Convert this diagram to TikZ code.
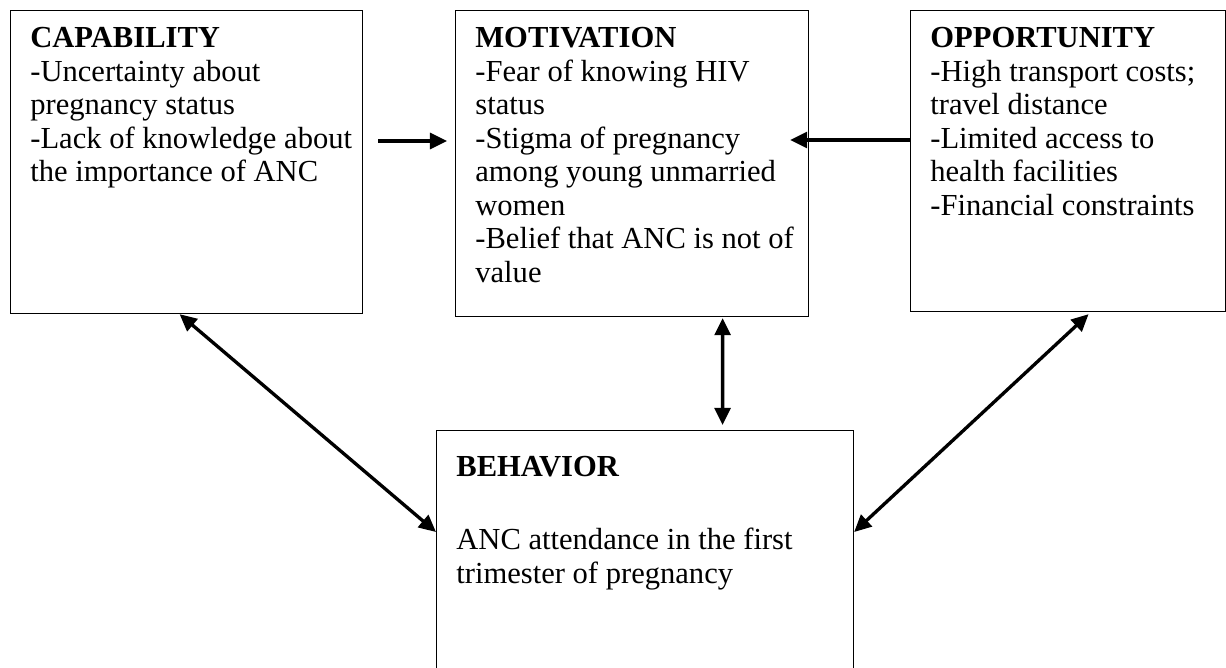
\documentclass[tikz,border=0pt]{standalone}
\usepackage{fontspec}
\setmainfont{Liberation Serif}
\usetikzlibrary{calc,arrows.meta}

\tikzset{
  box/.style={draw, line width=0.7pt, inner sep=0pt, anchor=north west},
  boxtext/.style={anchor=north west, align=left, inner sep=0pt, font=\fontsize{17.4}{19.1}\selectfont},
  link/.style={line width=1.9pt, {Triangle[length=9.7pt,width=9pt]}-{Triangle[length=9.7pt,width=9pt]}},
  onelink/.style={line width=1.9pt, -{Triangle[length=9.7pt,width=9pt]}}
}

\begin{document}
\begin{tikzpicture}[x=0.02cm, y=-0.02cm]
            \useasboundingbox (0,0) rectangle (1226,667);
            \node[box, minimum width=7.04cm, minimum height=6.06cm] (cap) at (10,10) {};
            \node[box, minimum width=7.06cm, minimum height=6.12cm] (mot) at (455,10) {};
            \node[box, minimum width=6.30cm, minimum height=6.02cm] (opp) at (910,10) {};
            \node[box, minimum width=8.34cm, minimum height=4.9cm] (beh) at (436,430) {};
            \node[boxtext] (captext) at (30,27) {\textbf{CAPABILITY}\\-Uncertainty about\\pregnancy status\\-Lack of knowledge about\\the importance of ANC};
            \node[boxtext] (mottext) at (475,27) {\textbf{MOTIVATION}\\-Fear of knowing HIV\\status\\-Stigma of pregnancy\\among young unmarried\\women\\-Belief that ANC is not of\\value};
            \node[boxtext] (opptext) at (930,27) {\textbf{OPPORTUNITY}\\-High transport costs;\\travel distance\\-Limited access to\\health facilities\\-Financial constraints};
            \node[boxtext] (behtext) at (456,456) {\textbf{BEHAVIOR}\\[22.5pt]ANC attendance in the first\\trimester of pregnancy};
            \draw[onelink] ($(cap.north east)+(15,131)$) -- ($(mot.north west)+(-8,131)$);
            \draw[onelink] ($(opp.north west)+(0,130)$) -- ($(mot.north east)+(-19,130)$);
            \draw[link] ($(cap.south)+(-7,0)$) -- ($(beh.north west)+(0,102)$);
            \draw[link] ($(mot.south)+(90.5,1)$) -- ($(beh.north)+(77.5,-5)$);
            \draw[link] ($(opp.south)+(20.5,2)$) -- ($(beh.north east)+(0,102)$);
        \end{tikzpicture}
\end{document}
